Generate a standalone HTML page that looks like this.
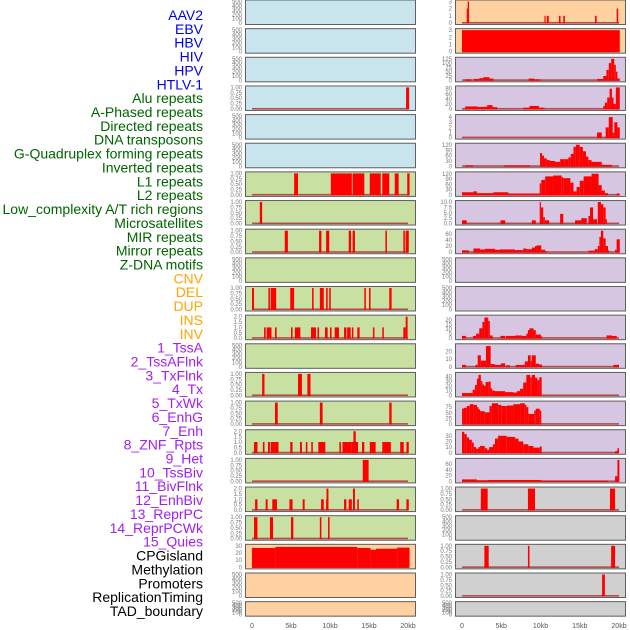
<!DOCTYPE html>
<html><head><meta charset="utf-8"><style>
html,body{margin:0;padding:0;background:#fff;}
svg{display:block;font-family:"Liberation Sans",sans-serif;}
</style></head><body>
<svg id="chart" width="630" height="630" viewBox="0 0 630 630" xmlns="http://www.w3.org/2000/svg">
<g id="labels"></g>
<g id="left"></g>
<g id="right"></g>
<g id="xaxes"></g>
</svg>
<script>
// ---- labels ----
const labelTexts = ["AAV2","EBV","HBV","HIV","HPV","HTLV-1","Alu repeats","A-Phased repeats","Directed repeats","DNA transposons","G-Quadruplex forming repeats","Inverted repeats","L1 repeats","L2 repeats","Low_complexity A/T rich regions","Microsatellites","MIR repeats","Mirror repeats","Z-DNA motifs","CNV","DEL","DUP","INS","INV","1_TssA","2_TssAFlnk","3_TxFlnk","4_Tx","5_TxWk","6_EnhG","7_Enh","8_ZNF_Rpts","9_Het","10_TssBiv","11_BivFlnk","12_EnhBiv","13_ReprPC","14_ReprPCWk","15_Quies","CPGisland","Methylation","Promoters","ReplicationTiming","TAD_boundary"];
const labelGroups = ["virus","virus","virus","virus","virus","virus","repeat","repeat","repeat","repeat","repeat","repeat","repeat","repeat","repeat","repeat","repeat","repeat","repeat","sv","sv","sv","sv","sv","chrom","chrom","chrom","chrom","chrom","chrom","chrom","chrom","chrom","chrom","chrom","chrom","chrom","chrom","chrom","other","other","other","other","other"];
const groupColor = {virus:"#0000ee",repeat:"#006400",sv:"#ffa500",chrom:"#a020f0",other:"#000000"};

// ---- x axis ----
const xTickValues = [0,5,10,15,20];
const xTickLabels = ["0","5kb","10kb","15kb","20kb"];

// ---- left column data (segments: [startKb, endKb, value]) ----
const L0=[],L1=[],L2=[],L4=[],L5=[],L9=[],L12=[],L20=[],L21=[];
const L3=[[19.75,20.15,1]];
const L6=[[5.4,5.9,1],[10.1,12.8,1],[12.9,14.4,1],[15.1,16.5,1],[16.7,17.6,1],[18.3,18.8,1],[19.9,20.2,1]];
const L7=[[1.0,1.3,1]];
const L8=[[4.2,4.6,1],[8.6,8.9,1],[9.5,9.9,1],[12.4,12.7,1],[12.9,13.2,1],[17.1,17.3,1],[19.4,19.6,1],[19.7,20.1,1]];
const L10=[[0,0.25,1],[2.1,2.3,1],[2.4,3.1,1],[4.9,5.4,1],[7.7,7.9,1],[8.7,9.2,1],[9.5,9.7,1],[9.9,10.1,1],[14.4,14.6,1],[15.0,15.2,1],[17.6,17.9,1]];
const L11=[[1.54,1.75,1],[1.88,2.5,1],[2.95,3.16,1],[5.0,5.2,1],[5.5,6.2,1],[7.56,8.2,1],[8.4,8.6,1],[9.36,9.7,1],[10.0,10.2,1],[10.6,11.15,1],[11.8,12.1,1],[12.2,12.65,1],[12.8,13.0,1],[13.5,13.8,1],[15.5,15.7,1],[16.7,16.9,1],[19.4,19.7,1],[19.7,19.95,2]];
const L13=[[1.3,1.6,1],[5.9,6.4,1],[7.1,7.5,1]];
const L14=[[2.95,3.3,1],[8.7,9.05,1],[17.6,17.9,1]];
const L15=[[0.26,0.7,1],[1.4,1.6,1],[2.05,2.3,1],[2.4,3.4,1],[4.9,5.2,1],[6.15,6.4,1],[6.9,7.1,1],[7.6,7.8,1],[8.5,9.4,1],[11.2,11.4,1],[11.6,12.8,1],[12.8,13.6,1],[13.0,13.3,2],[14.1,14.4,1],[15.1,15.85,1],[16.7,17.8,1],[19.0,19.45,1],[19.8,20.1,1]];
const L16=[[14.2,14.95,1]];
const L17=[[0.4,0.7,1],[1.75,2.0,1],[2.6,3.2,1],[4.8,5.2,1],[6.5,6.75,1],[8.85,9.2,1],[9.5,9.8,1],[9.55,9.8,2],[11.8,12.1,1],[12.4,12.8,1],[12.95,13.2,2],[13.5,13.7,1],[18.55,18.85,1],[19.8,20.1,1]];
const L18=[[0.26,0.7,1],[2.3,2.7,1],[5.0,5.3,1],[8.7,8.9,1],[9.75,9.95,1]];
const L19=[[0,3,27],[3,13.5,28.5],[13.5,15.2,27],[15.2,15.9,24.5],[15.9,18.6,26],[18.6,20.2,27.5]];

// ---- right column data ----
const R9=[],R10=[],R18=[],R21=[];
const R0=[[0.6,0.73,2],[0.73,0.9,3],[10.5,10.65,1],[10.8,11.05,1],[12.35,12.55,1],[12.9,13.1,1],[16.95,17.15,1],[19.7,19.9,2]];
const R1=[[0,20.1,3]];
const R2=[[0.4,1.2,6],[1.5,2.2,8],[2.2,2.7,12],[2.7,3.5,18],[3.5,4.0,10],[8.5,9.2,10],[9.2,10.0,6],[17.2,18.0,8],[18.0,18.4,25],[18.4,18.7,60],[18.7,19.0,100],[19.0,19.4,125],[19.4,19.6,90],[19.6,19.8,50],[19.8,20.1,10]];
const R3=[[0.4,2.0,10],[2.0,3.2,8],[3.2,3.9,15],[3.9,4.5,7],[7.8,8.6,5],[8.6,9.8,12],[9.8,10.5,5],[18.0,18.2,12],[18.2,18.5,25],[18.5,18.8,45],[18.8,19.1,80],[19.1,19.3,45],[19.3,19.6,20],[19.6,20.1,85]];
const R4=[[17.2,17.8,1],[18.3,18.7,2],[18.7,19.2,4],[19.2,19.4,1],[19.4,19.8,3],[19.8,20.1,2]];
const R5=[[0.4,1.4,5],[5.35,8.66,5],[9.94,10.2,75],[10.2,10.45,60],[10.45,10.8,45],[10.8,11.2,35],[11.2,11.85,30],[11.85,12.5,25],[12.5,13.1,40],[13.1,13.55,40],[13.55,13.85,50],[13.85,14.2,70],[14.2,14.5,110],[14.5,15.0,122],[15.0,15.4,110],[15.4,15.8,85],[15.8,16.1,55],[16.1,16.5,35],[16.5,17.8,25],[17.8,19.1,8]];
const R6=[[0,1.45,15],[1.45,1.9,20],[1.9,4.0,10],[4.0,5.9,15],[5.9,9.9,8],[9.9,10.1,65],[10.1,10.6,85],[10.6,11.6,105],[11.6,12.7,110],[12.7,12.9,100],[12.9,13.8,95],[13.8,14.2,70],[14.2,14.6,20],[14.6,15.0,45],[15.0,15.5,80],[15.5,16.5,105],[16.5,17.4,120],[17.4,17.8,55],[17.8,18.2,25],[18.2,18.6,10],[19.7,20.1,8]];
const R7=[[0,0.6,1.5],[4.9,5.5,1.5],[8.9,9.4,1.5],[9.9,10.05,10],[10.05,10.35,7.5],[10.35,10.55,3],[10.55,11.1,1.5],[12.5,12.9,4.5],[14.4,15.2,1.5],[15.2,15.9,2.5],[16.1,16.3,3.5],[16.3,16.7,7.5],[16.7,17.2,2],[17.3,17.7,10],[17.7,18.0,9],[18.0,18.3,7.5],[18.3,18.4,2]];
const R8=[[0,0.9,6],[1.45,2.3,12],[2.3,2.9,9],[2.9,4.2,11],[4.2,4.8,8],[4.8,6.75,9],[6.75,7.8,7],[7.8,8.2,12],[8.2,8.9,10],[8.9,9.3,15],[9.3,9.5,20],[9.5,10.1,22],[10.1,10.6,8],[10.6,10.8,3],[16.1,16.9,5],[16.9,17.3,10],[17.3,17.5,20],[17.5,17.7,50],[17.7,18.0,70],[18.0,18.3,45],[18.3,18.6,20],[18.6,18.7,6],[19.5,19.7,8],[19.7,20.1,42]];
const R11=[[0,0.5,2.5],[1.4,1.8,2.5],[1.8,2.2,5],[2.2,2.6,11],[2.6,2.85,18],[2.85,3.35,23],[3.35,3.55,19],[3.55,3.9,3],[4.9,5.5,2.5],[5.6,6.8,2.5],[6.8,7.6,3],[7.6,8.2,2.5],[8.2,8.4,5],[8.4,8.6,9],[8.6,9.1,11],[9.1,9.4,9],[9.4,10.05,4],[10.05,10.2,2],[18.4,19.1,3],[19.1,19.7,2.5]];
const R12=[[0,0.5,2.5],[1.7,2.0,2.5],[2.0,2.4,15],[2.4,3.05,8],[3.05,3.65,27],[3.65,4.2,3.5],[4.2,4.95,2.5],[4.95,5.5,4.5],[5.6,6.1,2],[6.85,8.0,2.5],[8.0,8.4,7],[8.4,8.75,15],[8.75,8.9,8],[8.9,9.4,15],[9.4,9.8,4],[9.8,10.2,3],[19.3,20.0,2.5]];
const R13=[[0,1.35,5],[1.35,1.65,12],[1.65,1.9,22],[1.9,2.1,35],[2.1,2.4,43],[2.4,2.6,30],[2.6,2.8,23],[2.8,3.0,20],[3.0,3.35,28],[3.35,3.65,29],[3.65,3.85,15],[3.85,4.2,10],[4.2,5.5,9],[5.5,6.55,7],[6.55,7.0,6],[7.0,7.4,9],[7.4,7.8,14],[7.8,8.2,27],[8.2,8.7,43],[8.7,8.9,38],[8.9,9.3,43],[9.3,9.6,37],[9.6,9.85,32],[9.85,10.15,38]];
const R14=[[0,0.2,68],[0.2,0.6,72],[0.6,1.0,80],[1.0,1.45,88],[1.45,1.9,85],[1.9,2.1,75],[2.1,2.3,65],[2.3,2.9,57],[2.9,3.5,52],[3.5,3.8,80],[3.8,4.6,92],[4.6,5.0,85],[5.0,5.7,80],[5.7,6.55,82],[6.55,7.4,88],[7.4,8.0,92],[8.0,8.2,85],[8.2,8.45,75],[8.45,9.2,45],[9.2,9.4,60],[9.4,9.9,68],[9.9,10.1,60]];
const R15=[[0,0.3,37],[0.3,0.6,33],[0.6,0.9,27],[0.9,1.25,23],[1.25,1.5,18],[1.5,1.8,10],[1.8,2.1,7],[2.1,2.3,10],[2.3,2.9,12],[2.9,3.2,8],[3.2,3.45,5],[3.45,3.95,10],[3.95,4.2,15],[4.2,4.6,25],[4.6,5.7,30],[5.7,6.75,28],[6.75,7.2,25],[7.2,7.8,20],[7.8,8.45,15],[8.45,9.1,12],[9.1,9.9,9],[9.9,10.15,11],[19.5,19.8,3],[19.8,20.0,8]];
const R16=[[0,1.9,7],[1.9,3.35,4],[3.35,10.1,5],[10.1,18.6,3],[19.5,19.8,18],[19.8,20.05,75]];
const R17=[[2.4,3.27,1],[8.4,9.3,1],[18.85,19.5,1]];
const R19=[[2.85,3.4,1],[8.4,8.6,1],[19.0,19.5,1]];
const R20=[[17.85,18.2,1]];

// ---- tick label sets ----
const ticksEmpty=[0,100,200,300,400,500];
const ticks1=["0.00","0.25","0.50","0.75","1.00"];
const ticks2=["0.0","0.5","1.0","1.5","2.0"];

// panel configs: [bg kind, data, ymax, tick values, tick labels]
const leftPanels = [
 ["blue",L0,null],["blue",L1,null],["blue",L2,null],["blue",L3,1,[0,.25,.5,.75,1],ticks1],["blue",L4,null],["blue",L5,null],
 ["green",L6,1,[0,.25,.5,.75,1],ticks1],["green",L7,1,[0,.25,.5,.75,1],ticks1],["green",L8,1,[0,.25,.5,.75,1],ticks1],["green",L9,null],
 ["green",L10,1,[0,.25,.5,.75,1],ticks1],["green",L11,2,[0,.5,1,1.5,2],ticks2],["green",L12,null],["green",L13,1,[0,.25,.5,.75,1],ticks1],
 ["green",L14,1,[0,.25,.5,.75,1],ticks1],["green",L15,2,[0,.5,1,1.5,2],ticks2],["green",L16,1,[0,.25,.5,.75,1],ticks1],["green",L17,2,[0,.5,1,1.5,2],ticks2],
 ["green",L18,1,[0,.25,.5,.75,1],ticks1],["orange",L19,30,[0,10,20,30],["0","10","20","30"]],["orange",L20,null],["orange",L21,null]
];
const rightPanels = [
 ["orange",R0,3,[0,1,2,3],["0","1","2","3"]],["orange",R1,3,[0,1,2,3],["0","1","2","3"]],
 ["purple",R2,125,[0,25,50,75,100,125],["0","25","50","75","100","125"]],["purple",R3,85,[0,20,40,60,80],["0","20","40","60","80"]],
 ["purple",R4,4.2,[0,1,2,3,4],["0","1","2","3","4"]],["purple",R5,122,[0,30,60,90,120],["0","30","60","90","120"]],
 ["purple",R6,122,[0,30,60,90,120],["0","30","60","90","120"]],["purple",R7,10,[0,2.5,5,7.5,10],["0.0","2.5","5.0","7.5","10.0"]],
 ["purple",R8,70,[0,20,40,60],["0","20","40","60"]],["purple",R9,null],["purple",R10,null],
 ["purple",R11,24,[0,5,10,15,20],["0","5","10","15","20"]],["purple",R12,28,[0,10,20],["0","10","20"]],
 ["purple",R13,45,[0,10,20,30,40],["0","10","20","30","40"]],["purple",R14,95,[0,25,50,75],["0","25","50","75"]],
 ["purple",R15,38,[0,10,20,30],["0","10","20","30"]],["purple",R16,75,[0,20,40,60],["0","20","40","60"]],
 ["grey",R17,1,[0,.25,.5,.75,1],ticks1],["grey",R18,null],["grey",R19,1,[0,.25,.5,.75,1],ticks1],["grey",R20,1,[0,.25,.5,.75,1],ticks1],["grey",R21,null]
];

const bgColor={blue:"#c8e4ec",green:"#c8e0a2",orange:"#ffd0a0",purple:"#d6c6e2",grey:"#d0d0d0"};
const NS="http://www.w3.org/2000/svg";
function mk(tag,attrs,parent){const e=document.createElementNS(NS,tag);for(const k in attrs)e.setAttribute(k,attrs[k]);parent.appendChild(e);return e;}

// labels
const lg=document.getElementById("labels");
labelTexts.forEach((t,k)=>{
  const e=mk("text",{x:203,y:15+k*13.86+5,"text-anchor":"end","font-size":"14",fill:groupColor[labelGroups[k]]},lg);
  e.textContent=t;
  
  
});

function rowTop(i){return i*28.65-0.5;}
function rowH(i){return i===21?15.5:25.5;}

function drawColumn(gid,panels,x0,x1,kb0,pxPerKb,side){
  const g=document.getElementById(gid);
  const xs=kb=>kb0+kb*pxPerKb;
  panels.forEach((p,i)=>{
    const top=rowTop(i),h=rowH(i),bot=top+h;
    const pg=mk("g",{},g);
    
    
    const bg=mk("rect",{x:x0,y:top,width:x1-x0,height:h,fill:bgColor[p[0]]},pg);
    
    
    const ymax=p[2]||500;
    const ys=v=>bot-2-v/ymax*(h-4);
    const tv=p[2]?p[3]:ticksEmpty;
    const tl=p[2]?p[4]:ticksEmpty.map(String);
    if(p[2]){
      const bl=mk("rect",{x:xs(0),y:ys(0)-1,width:xs(20)-xs(0),height:1.6,fill:"#b84a4a"},pg);
      
      
      p[1].forEach(s=>{
        const y=ys(Math.min(s[2],ymax));
        const r=mk("rect",{x:xs(s[0]),y:y,width:Math.max(xs(s[1])-xs(s[0]),1.2),height:ys(0)-y+0.5,fill:"#ff0000"},pg);
        
        
      });
    }
    const bd=mk("rect",{x:x0+0.5,y:top+0.5,width:x1-x0-1,height:h-1,fill:"none",stroke:"#606060","stroke-width":"1"},pg);
    
    
    tv.forEach((v,k)=>{
      const t=mk("text",{x:x0-3,y:ys(v)+2,"text-anchor":"end","font-size":"6",fill:"#777"},pg);
      t.textContent=tl[k];
      
      
    });
  });
  const xa=document.getElementById("xaxes");
  xTickValues.forEach((v,k)=>{
    const t=mk("text",{x:xs(v),y:628,"text-anchor":"middle","font-size":"7",fill:"#555"},xa);
    t.textContent=xTickLabels[k];
    
    
  });
}
drawColumn("left",leftPanels,245,416,252,7.8,"left");
drawColumn("right",rightPanels,455,626,462,7.85,"right");
</script>
</body></html>
